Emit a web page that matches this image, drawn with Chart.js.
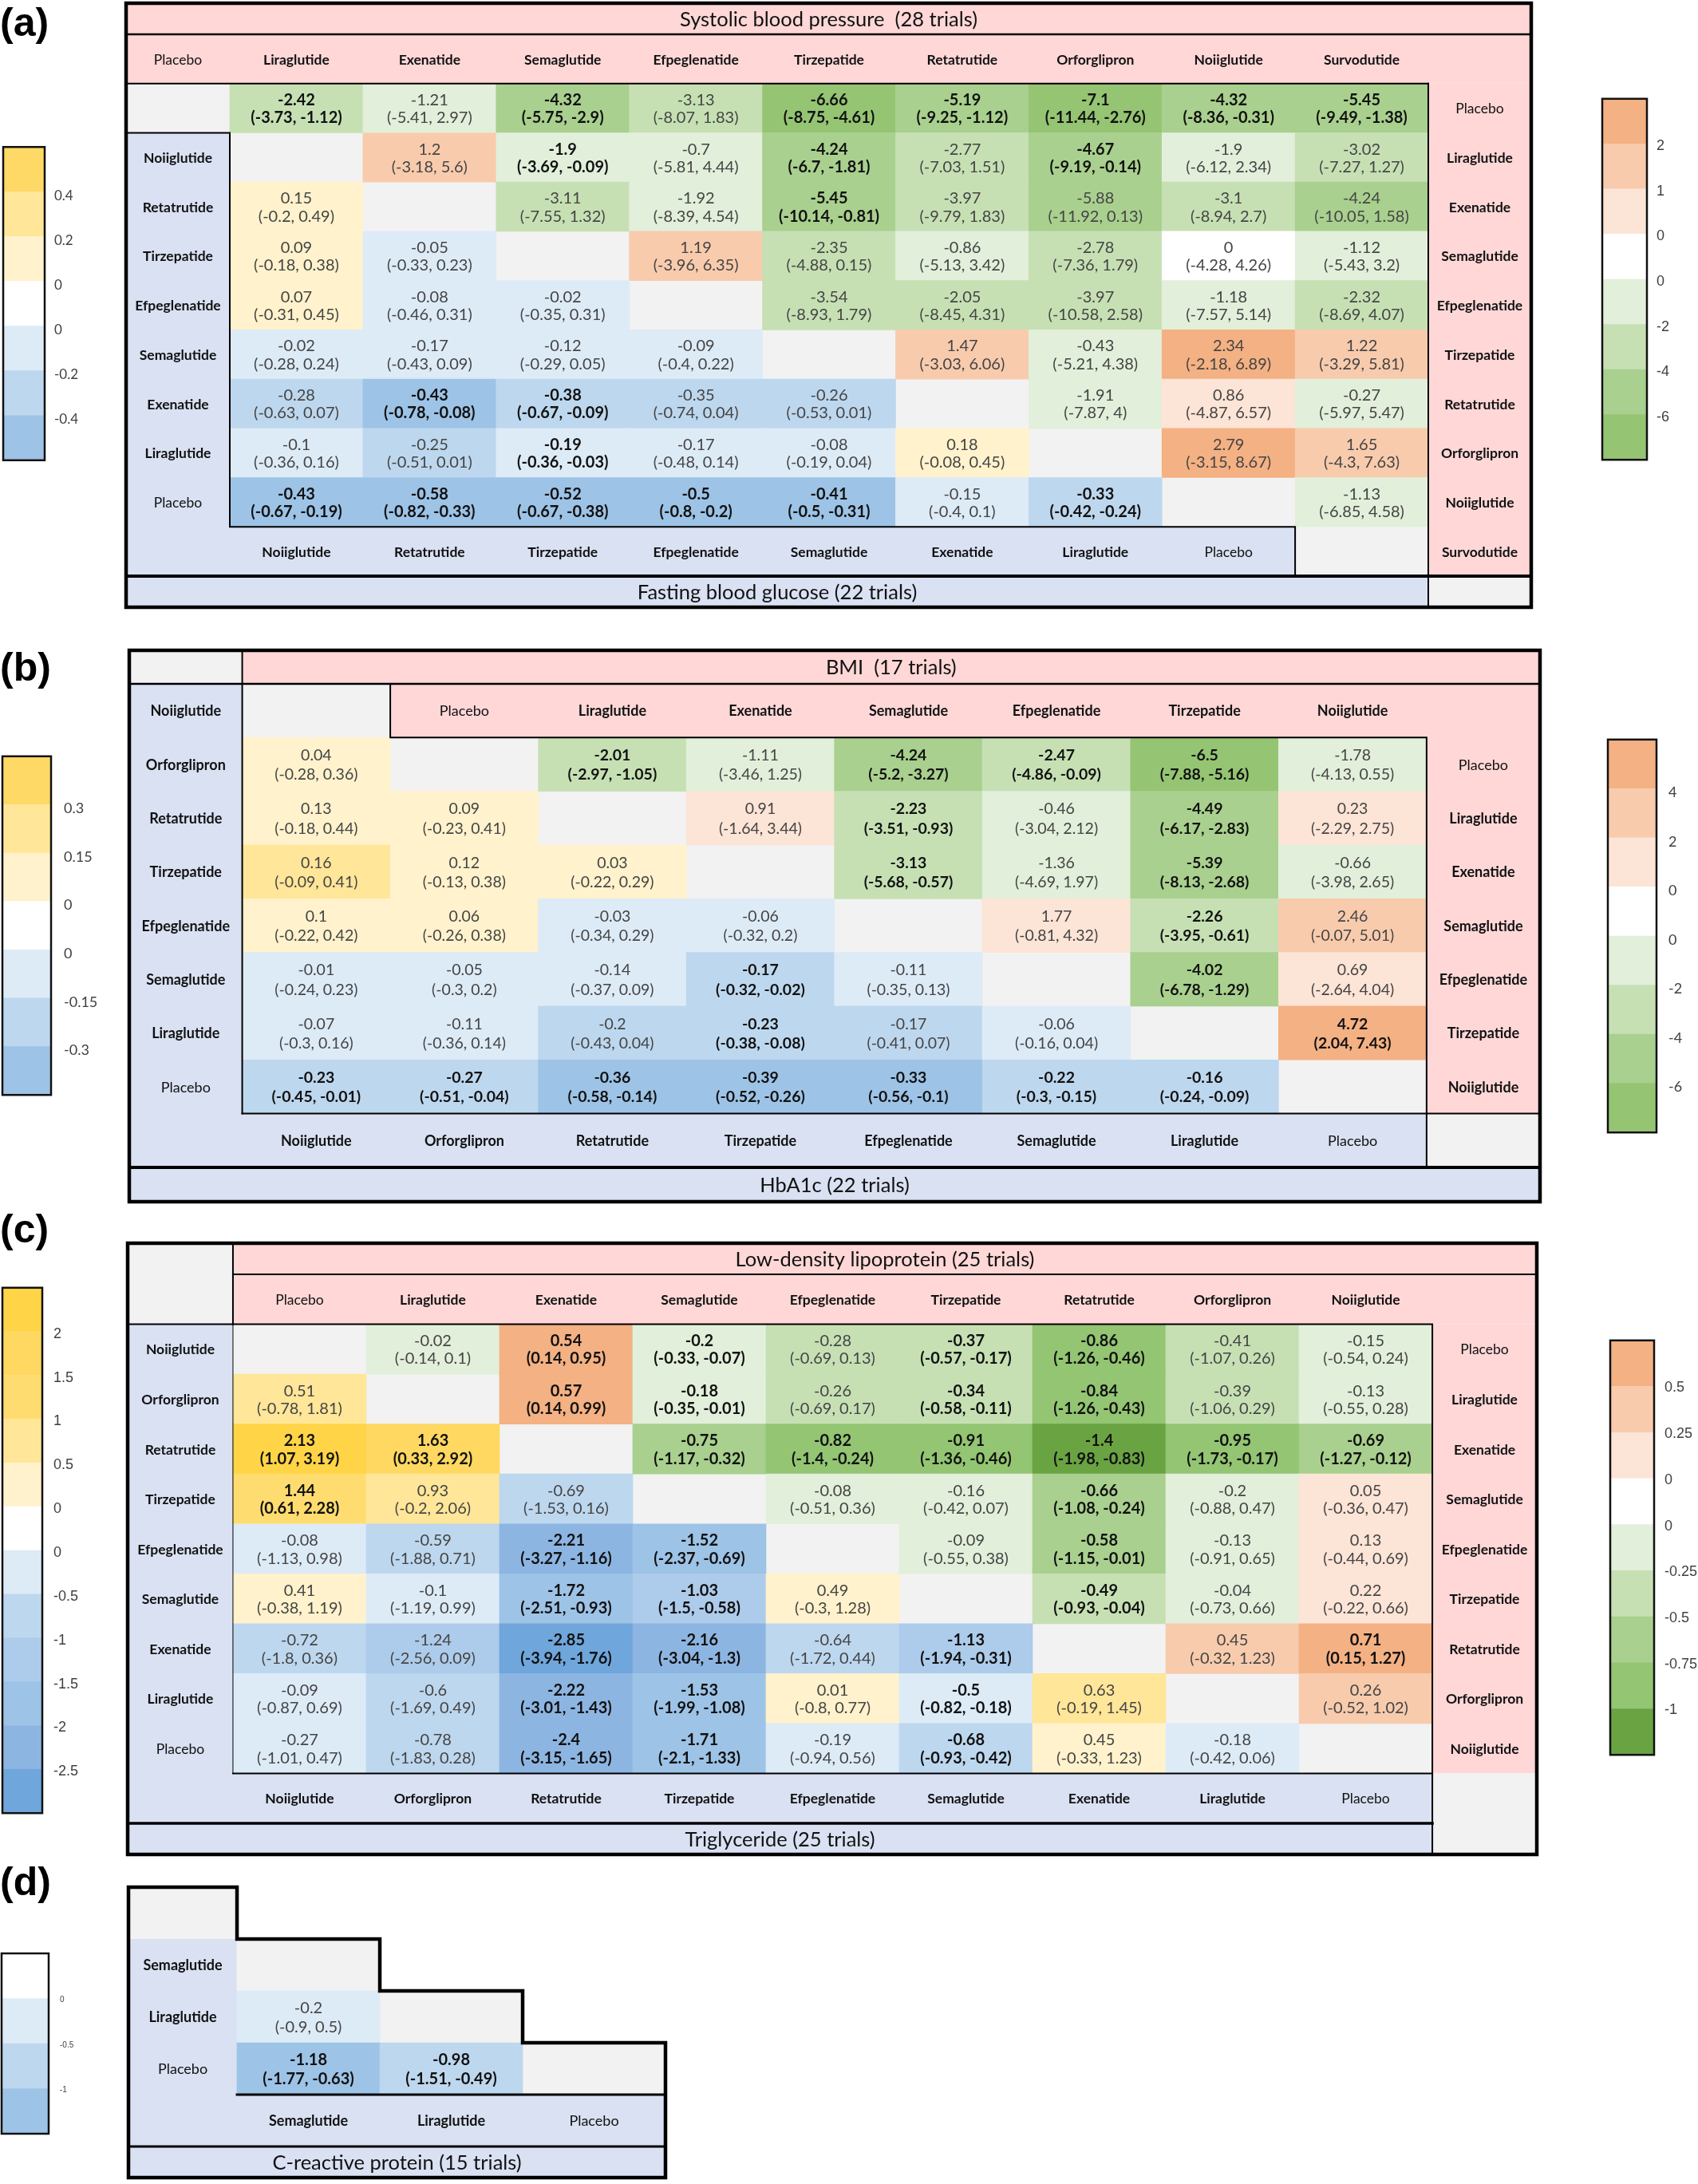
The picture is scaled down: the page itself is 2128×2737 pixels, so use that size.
<!DOCTYPE html>
<html>
<head>
<meta charset="utf-8">
<script src="https://cdn.jsdelivr.net/npm/chart.js@4.4.1/dist/chart.umd.min.js"></script>
<style>
  html, body { margin: 0; padding: 0; background: #fff; }
  body { width: 2128px; height: 2737px; position: relative; overflow: hidden; }
  canvas { position: absolute; }
  .tag { position: absolute; left: 0; font: bold 50px "Liberation Sans", Arial, sans-serif; line-height: 50px; color: #000; }
</style>
</head>
<body>
<div class="tag" style="top:3px">(a)</div>
<div class="tag" style="top:811px">(b)</div>
<div class="tag" style="top:1515px">(c)</div>
<div class="tag" style="top:2333px">(d)</div>

<canvas id="legA1"></canvas><canvas id="tabA"></canvas><canvas id="legA2"></canvas>
<canvas id="legB1"></canvas><canvas id="tabB"></canvas><canvas id="legB2"></canvas>
<canvas id="legC1"></canvas><canvas id="tabC"></canvas><canvas id="legC2"></canvas>
<canvas id="legD"></canvas><canvas id="tabD"></canvas>

<script>
// ---------- (a) systolic blood pressure, upper triangle ----------
// row i: sbpNames[i] compared with sbpNames[i+1..]
const sbpNames = ['Placebo', 'Liraglutide', 'Exenatide', 'Semaglutide', 'Efpeglenatide',
  'Tirzepatide', 'Retatrutide', 'Orforglipron', 'Noiiglutide', 'Survodutide'];
const sbpEst = [
  [-2.42, -1.21, -4.32, -3.13, -6.66, -5.19, -7.1, -4.32, -5.45],
  [1.2, -1.9, -0.7, -4.24, -2.77, -4.67, -1.9, -3.02],
  [-3.11, -1.92, -5.45, -3.97, -5.88, -3.1, -4.24],
  [1.19, -2.35, -0.86, -2.78, 0, -1.12],
  [-3.54, -2.05, -3.97, -1.18, -2.32],
  [1.47, -0.43, 2.34, 1.22],
  [-1.91, 0.86, -0.27],
  [2.79, 1.65],
  [-1.13],
];
const sbpLow = [
  [-3.73, -5.41, -5.75, -8.07, -8.75, -9.25, -11.44, -8.36, -9.49],
  [-3.18, -3.69, -5.81, -6.7, -7.03, -9.19, -6.12, -7.27],
  [-7.55, -8.39, -10.14, -9.79, -11.92, -8.94, -10.05],
  [-3.96, -4.88, -5.13, -7.36, -4.28, -5.43],
  [-8.93, -8.45, -10.58, -7.57, -8.69],
  [-3.03, -5.21, -2.18, -3.29],
  [-7.87, -4.87, -5.97],
  [-3.15, -4.3],
  [-6.85],
];
const sbpHigh = [
  [-1.12, 2.97, -2.9, 1.83, -4.61, -1.12, -2.76, -0.31, -1.38],
  [5.6, -0.09, 4.44, -1.81, 1.51, -0.14, 2.34, 1.27],
  [1.32, 4.54, -0.81, 1.83, 0.13, 2.7, 1.58],
  [6.35, 0.15, 3.42, 1.79, 4.26, 3.2],
  [1.79, 4.31, 2.58, 5.14, 4.07],
  [6.06, 4.38, 6.89, 5.81],
  [4, 6.57, 5.47],
  [8.67, 7.63],
  [4.58],
];

// ---------- (a) fasting blood glucose, lower triangle ----------
// row i: fbgNames[i] compared with fbgNames[0..i-1]
const fbgNames = ['Noiiglutide', 'Retatrutide', 'Tirzepatide', 'Efpeglenatide', 'Semaglutide',
  'Exenatide', 'Liraglutide', 'Placebo'];
const fbgEst = [
  [], [0.15], [0.09, -0.05], [0.07, -0.08, -0.02], [-0.02, -0.17, -0.12, -0.09],
  [-0.28, -0.43, -0.38, -0.35, -0.26],
  [-0.1, -0.25, -0.19, -0.17, -0.08, 0.18],
  [-0.43, -0.58, -0.52, -0.5, -0.41, -0.15, -0.33],
];
const fbgLow = [
  [], [-0.2], [-0.18, -0.33], [-0.31, -0.46, -0.35], [-0.28, -0.43, -0.29, -0.4],
  [-0.63, -0.78, -0.67, -0.74, -0.53],
  [-0.36, -0.51, -0.36, -0.48, -0.19, -0.08],
  [-0.67, -0.82, -0.67, -0.8, -0.5, -0.4, -0.42],
];
const fbgHigh = [
  [], [0.49], [0.38, 0.23], [0.45, 0.31, 0.31], [0.24, 0.09, 0.05, 0.22],
  [0.07, -0.08, -0.09, 0.04, 0.01],
  [0.16, 0.01, -0.03, 0.14, 0.04, 0.45],
  [-0.19, -0.33, -0.38, -0.2, -0.31, 0.1, -0.24],
];

// ---------- (b) BMI, upper triangle ----------
const bmiNames = ['Placebo', 'Liraglutide', 'Exenatide', 'Semaglutide', 'Efpeglenatide', 'Tirzepatide', 'Noiiglutide'];
const bmiEst = [
  [-2.01, -1.11, -4.24, -2.47, -6.5, -1.78],
  [0.91, -2.23, -0.46, -4.49, 0.23],
  [-3.13, -1.36, -5.39, -0.66],
  [1.77, -2.26, 2.46],
  [-4.02, 0.69],
  [4.72],
];
const bmiLow = [
  [-2.97, -3.46, -5.2, -4.86, -7.88, -4.13],
  [-1.64, -3.51, -3.04, -6.17, -2.29],
  [-5.68, -4.69, -8.13, -3.98],
  [-0.81, -3.95, -0.07],
  [-6.78, -2.64],
  [2.04],
];
const bmiHigh = [
  [-1.05, 1.25, -3.27, -0.09, -5.16, 0.55],
  [3.44, -0.93, 2.12, -2.83, 2.75],
  [-0.57, 1.97, -2.68, 2.65],
  [4.32, -0.61, 5.01],
  [-1.29, 4.04],
  [7.43],
];

// ---------- (b) HbA1c, lower triangle ----------
const hba1cNames = ['Noiiglutide', 'Orforglipron', 'Retatrutide', 'Tirzepatide', 'Efpeglenatide',
  'Semaglutide', 'Liraglutide', 'Placebo'];
const hba1cEst = [
  [], [0.04], [0.13, 0.09], [0.16, 0.12, 0.03], [0.1, 0.06, -0.03, -0.06],
  [-0.01, -0.05, -0.14, -0.17, -0.11],
  [-0.07, -0.11, -0.2, -0.23, -0.17, -0.06],
  [-0.23, -0.27, -0.36, -0.39, -0.33, -0.22, -0.16],
];
const hba1cLow = [
  [], [-0.28], [-0.18, -0.23], [-0.09, -0.13, -0.22], [-0.22, -0.26, -0.34, -0.32],
  [-0.24, -0.3, -0.37, -0.32, -0.35],
  [-0.3, -0.36, -0.43, -0.38, -0.41, -0.16],
  [-0.45, -0.51, -0.58, -0.52, -0.56, -0.3, -0.24],
];
const hba1cHigh = [
  [], [0.36], [0.44, 0.41], [0.41, 0.38, 0.29], [0.42, 0.38, 0.29, 0.2],
  [0.23, 0.2, 0.09, -0.02, 0.13],
  [0.16, 0.14, 0.04, -0.08, 0.07, 0.04],
  [-0.01, -0.04, -0.14, -0.26, -0.1, -0.15, -0.09],
];

// ---------- (c) LDL, upper triangle ----------
const ldlNames = ['Placebo', 'Liraglutide', 'Exenatide', 'Semaglutide', 'Efpeglenatide',
  'Tirzepatide', 'Retatrutide', 'Orforglipron', 'Noiiglutide'];
const ldlEst = [
  [-0.02, 0.54, -0.2, -0.28, -0.37, -0.86, -0.41, -0.15],
  [0.57, -0.18, -0.26, -0.34, -0.84, -0.39, -0.13],
  [-0.75, -0.82, -0.91, -1.4, -0.95, -0.69],
  [-0.08, -0.16, -0.66, -0.2, 0.05],
  [-0.09, -0.58, -0.13, 0.13],
  [-0.49, -0.04, 0.22],
  [0.45, 0.71],
  [0.26],
];
const ldlLow = [
  [-0.14, 0.14, -0.33, -0.69, -0.57, -1.26, -1.07, -0.54],
  [0.14, -0.35, -0.69, -0.58, -1.26, -1.06, -0.55],
  [-1.17, -1.4, -1.36, -1.98, -1.73, -1.27],
  [-0.51, -0.42, -1.08, -0.88, -0.36],
  [-0.55, -1.15, -0.91, -0.44],
  [-0.93, -0.73, -0.22],
  [-0.32, 0.15],
  [-0.52],
];
const ldlHigh = [
  [0.1, 0.95, -0.07, 0.13, -0.17, -0.46, 0.26, 0.24],
  [0.99, -0.01, 0.17, -0.11, -0.43, 0.29, 0.28],
  [-0.32, -0.24, -0.46, -0.83, -0.17, -0.12],
  [0.36, 0.07, -0.24, 0.47, 0.47],
  [0.38, -0.01, 0.65, 0.69],
  [-0.04, 0.66, 0.66],
  [1.23, 1.27],
  [1.02],
];

// ---------- (c) triglyceride, lower triangle ----------
const tgNames = ['Noiiglutide', 'Orforglipron', 'Retatrutide', 'Tirzepatide', 'Efpeglenatide',
  'Semaglutide', 'Exenatide', 'Liraglutide', 'Placebo'];
const tgEst = [
  [], [0.51], [2.13, 1.63], [1.44, 0.93, -0.69], [-0.08, -0.59, -2.21, -1.52],
  [0.41, -0.1, -1.72, -1.03, 0.49],
  [-0.72, -1.24, -2.85, -2.16, -0.64, -1.13],
  [-0.09, -0.6, -2.22, -1.53, 0.01, -0.5, 0.63],
  [-0.27, -0.78, -2.4, -1.71, -0.19, -0.68, 0.45, -0.18],
];
const tgLow = [
  [], [-0.78], [1.07, 0.33], [0.61, -0.2, -1.53], [-1.13, -1.88, -3.27, -2.37],
  [-0.38, -1.19, -2.51, -1.5, -0.3],
  [-1.8, -2.56, -3.94, -3.04, -1.72, -1.94],
  [-0.87, -1.69, -3.01, -1.99, -0.8, -0.82, -0.19],
  [-1.01, -1.83, -3.15, -2.1, -0.94, -0.93, -0.33, -0.42],
];
const tgHigh = [
  [], [1.81], [3.19, 2.92], [2.28, 2.06, 0.16], [0.98, 0.71, -1.16, -0.69],
  [1.19, 0.99, -0.93, -0.58, 1.28],
  [0.36, 0.09, -1.76, -1.3, 0.44, -0.31],
  [0.69, 0.49, -1.43, -1.08, 0.77, -0.18, 1.45],
  [0.47, 0.28, -1.65, -1.33, 0.56, -0.42, 1.23, 0.06],
];

// ---------- (d) C-reactive protein, lower triangle ----------
const crpNames = ['Semaglutide', 'Liraglutide', 'Placebo'];
const crpEst  = [[], [-0.2], [-1.18, -0.98]];
const crpLow  = [[], [-0.9], [-1.77, -1.51]];
const crpHigh = [[], [0.5], [-0.63, -0.49]];

// legend tick values (colour class limits)
const sbpPosBreaks = [1, 2],          sbpNegBreaks = [-2, -4, -6];
const fbgPosBreaks = [0.2, 0.4],      fbgNegBreaks = [-0.2, -0.4];
const bmiPosBreaks = [2, 4],          bmiNegBreaks = [-2, -4, -6];
const hba1cPosBreaks = [0.15, 0.3],   hba1cNegBreaks = [-0.15, -0.3];
const ldlPosBreaks = [0.25, 0.5],     ldlNegBreaks = [-0.25, -0.5, -0.75, -1];
const tgPosBreaks = [0.5, 1, 1.5, 2], tgNegBreaks = [-0.5, -1, -1.5, -2, -2.5];
const crpPosBreaks = [],              crpNegBreaks = [-0.5, -1];

// ---------- styles ----------
const FONT = 'Lato, "Liberation Sans", sans-serif';
const PINK = '#FFD7D7', LAV = '#D9E1F2', GRAY = '#F2F2F2';
const ORANGE = ['#FCE4D6', '#F8CBAD', '#F4B183'];
const GREEN4 = ['#E2EFDA', '#C6E0B4', '#A9D08E', '#95C473'];
const GREEN5 = ['#E2EFDA', '#C6E0B4', '#A9D08E', '#93C572', '#6AA342'];
const YELLOW3 = ['#FFF2CC', '#FFE699', '#FFD966'];
const YELLOW5 = ['#FFF2CC', '#FFE699', '#FFDC6F', '#FFD862', '#FFD447'];
const BLUE3 = ['#DDEBF7', '#BDD7EE', '#9DC3E6'];
const BLUE6 = ['#DDEBF7', '#BDD7EE', '#ADCBEA', '#9DC3E6', '#8DB5E2', '#6FA6DC'];

const palSbp   = { pos: ORANGE, posBreaks: sbpPosBreaks, neg: GREEN4, negBreaks: sbpNegBreaks };
const palFbg   = { pos: YELLOW3, posBreaks: fbgPosBreaks, neg: BLUE3, negBreaks: fbgNegBreaks };
const palBmi   = { pos: ORANGE, posBreaks: bmiPosBreaks, neg: GREEN4, negBreaks: bmiNegBreaks };
const palHba1c = { pos: YELLOW3, posBreaks: hba1cPosBreaks, neg: BLUE3, negBreaks: hba1cNegBreaks };
const palLdl   = { pos: ORANGE, posBreaks: ldlPosBreaks, neg: GREEN5, negBreaks: ldlNegBreaks };
const palTg    = { pos: YELLOW5, posBreaks: tgPosBreaks, neg: BLUE6, negBreaks: tgNegBreaks };
const palCrp   = { pos: [], posBreaks: crpPosBreaks, neg: BLUE3, negBreaks: crpNegBreaks };

function colorFor(v, pal) {
  if (v > 0) return pal.pos[pal.posBreaks.filter(b => v > b).length];
  if (v < 0) return pal.neg[pal.negBreaks.filter(b => v < b).length];
  return '#FFFFFF';
}

// ---------- spec helpers (grid units: 1 column x 1 row per cell) ----------
function newSpec(valueSize, labelSize) {
  return { cells: [], diag: [], bands: [], texts: [], lines: [], valueSize, labelSize };
}
const TITLE_SIZE = 25.5;
const band = (s, x0, x1, y0, y1, color) => s.bands.push({ x0, x1, y0, y1, color });
const line = (s, pts, w, closed) => s.lines.push({ pts, w, closed });
function label(s, text, span, y0, y1) {
  s.texts.push({ text, x0: span[0], x1: span[1], y0, y1, size: s.labelSize, weight: text === 'Placebo' ? 'normal' : 'bold' });
}
function title(s, text, span, y0, y1) {
  s.texts.push({ text, x0: span[0], x1: span[1], y0, y1, size: TITLE_SIZE, weight: 'normal' });
}
function cell(span, row, v, lo, hi, pal) {
  return { x0: span[0], x1: span[1], row, color: colorFor(v, pal),
    est: String(v), ci: '(' + lo + ', ' + hi + ')', bold: lo > 0 || hi < 0 };
}
function addUpper(s, est, lo, hi, pal, rowOf, colOf) {
  est.forEach((r, i) => r.forEach((v, k) => s.cells.push(cell(colOf(i + 1 + k), rowOf(i), v, lo[i][k], hi[i][k], pal))));
}
function addLower(s, est, lo, hi, pal, rowOf, colOf) {
  est.forEach((r, i) => r.forEach((v, j) => s.cells.push(cell(colOf(j), rowOf(i), v, lo[i][j], hi[i][j], pal))));
}
const rect = (x0, x1, y0, y1) => [[x0, y0], [x1, y0], [x1, y1], [x0, y1]];

// ---------- panel geometry (pixels per unit and extents in units) ----------
const geoA = { id: 'tabA', left: 158, top: 4, colW: 166.9, rowH: 61.7, xMin: -0.779, xMax: 9.773, yMin: -1.632, yMax: 10.632 };
const geoB = { id: 'tabB', left: 161.5, top: 815, colW: 185.5, rowH: 67.3, xMin: -0.763, xMax: 8.766, yMin: -0.624, yMax: 9.64 };
const geoC = { id: 'tabC', left: 160, top: 1558, colW: 167, rowH: 62.5, xMin: -0.79, xMax: 9.784, yMin: -1.624, yMax: 10.624 };
const geoD = { id: 'tabD', left: 161, top: 2365, colW: 179, rowH: 65, xMin: -0.76, xMax: 3, yMin: -1, yMax: 4.6 };

function specA() {
  const g = geoA, L = g.xMin, R = g.xMax, s = newSpec(20, 17.5);
  const upCol = j => j === 0 ? [L, 0] : [j - 1, j];
  const loCol = j => [j, j + 1];
  band(s, L, R, g.yMin, 0, PINK);
  band(s, 9, R, 0, 10, PINK);
  band(s, L, 0, 1, 10, LAV);
  band(s, L, 8, 9, 10, LAV);
  band(s, L, 9, 10, g.yMax, LAV);
  band(s, 9, R, 10, g.yMax, GRAY);
  sbpNames.forEach((n, i) => {
    s.diag.push({ span: upCol(i), row: i });
    label(s, n, upCol(i), -1, 0);
    label(s, n, [9, R], i, i + 1);
  });
  fbgNames.forEach((n, i) => {
    label(s, n, [L, 0], i + 1, i + 2);
    label(s, n, loCol(i), 9, 10);
  });
  addUpper(s, sbpEst, sbpLow, sbpHigh, palSbp, i => i, upCol);
  addLower(s, fbgEst, fbgLow, fbgHigh, palFbg, i => i + 1, loCol);
  title(s, 'Systolic blood pressure  (28 trials)', [L, R], g.yMin, -1);
  title(s, 'Fasting blood glucose (22 trials)', [L, 9], 10, g.yMax);
  line(s, [[L, -1], [R, -1]], 2.5);
  line(s, [[L, 0], [9, 0]], 2);
  line(s, [[9, 0], [9, g.yMax]], 2);
  line(s, [[L, 1], [0, 1], [0, 9], [8, 9], [8, 10]], 2);
  line(s, [[L, 10], [R, 10]], 4);
  line(s, rect(L, R, g.yMin, g.yMax), 4.5, true);
  return s;
}

function specB() {
  const g = geoB, L = g.xMin, R = g.xMax, s = newSpec(19.5, 18);
  const upCol = j => [j + 1, j + 2];
  const loCol = j => [j, j + 1];
  band(s, L, 0, g.yMin, 0, GRAY);
  band(s, 0, R, g.yMin, 0, PINK);
  band(s, 1, R, 0, 1, PINK);
  band(s, 8, R, 0, 8, PINK);
  band(s, L, 0, 0, 9, LAV);
  band(s, L, 8, 8, 9, LAV);
  band(s, 8, R, 8, 9, GRAY);
  band(s, L, R, 9, g.yMax, LAV);
  hba1cNames.forEach((n, i) => {
    s.diag.push({ span: loCol(i), row: i });
    label(s, n, [L, 0], i, i + 1);
    label(s, n, loCol(i), 8, 9);
  });
  bmiNames.forEach((n, i) => {
    label(s, n, upCol(i), 0, 1);
    label(s, n, [8, R], i + 1, i + 2);
  });
  addUpper(s, bmiEst, bmiLow, bmiHigh, palBmi, i => i + 1, upCol);
  addLower(s, hba1cEst, hba1cLow, hba1cHigh, palHba1c, i => i, loCol);
  title(s, 'BMI  (17 trials)', [0, R], g.yMin, 0);
  title(s, 'HbA1c (22 trials)', [L, R], 9, g.yMax);
  line(s, [[L, 0], [R, 0]], 2.5);
  line(s, [[0, g.yMin], [0, 8]], 2);
  line(s, [[1, 0], [1, 1], [8, 1], [8, 9]], 2);
  line(s, [[0, 8], [R, 8]], 2);
  line(s, [[L, 9], [R, 9]], 4);
  line(s, rect(L, R, g.yMin, g.yMax), 4.5, true);
  return s;
}

function specC() {
  const g = geoC, L = g.xMin, R = g.xMax, s = newSpec(20, 17.5);
  const col = j => [j, j + 1];
  band(s, L, 0, g.yMin, 0, GRAY);
  band(s, 0, R, g.yMin, 0, PINK);
  band(s, 9, R, 0, 9, PINK);
  band(s, 9, R, 9, g.yMax, GRAY);
  band(s, L, 0, 0, 10, LAV);
  band(s, L, 9, 9, g.yMax, LAV);
  tgNames.forEach((n, i) => {
    s.diag.push({ span: col(i), row: i });
    label(s, n, [L, 0], i, i + 1);
    label(s, n, col(i), 9, 10);
  });
  ldlNames.forEach((n, i) => {
    label(s, n, col(i), -1, 0);
    label(s, n, [9, R], i, i + 1);
  });
  addUpper(s, ldlEst, ldlLow, ldlHigh, palLdl, i => i, col);
  addLower(s, tgEst, tgLow, tgHigh, palTg, i => i, col);
  title(s, 'Low-density lipoprotein (25 trials)', [0, R], g.yMin, -1);
  title(s, 'Triglyceride (25 trials)', [L, 9], 10, g.yMax);
  line(s, [[0, g.yMin], [0, 0]], 2);
  line(s, [[0, 0], [0, 9]], 1);
  line(s, [[0, -1], [R, -1]], 2);
  line(s, [[L, 0], [9, 0], [9, g.yMax]], 2);
  line(s, [[0, 9], [9, 9]], 2);
  line(s, [[L, 10], [9, 10]], 3.5);
  line(s, rect(L, R, g.yMin, g.yMax), 4.5, true);
  return s;
}

function specD() {
  const g = geoD, L = g.xMin, s = newSpec(20, 18);
  const col = j => [j, j + 1];
  band(s, L, 0, -1, 0, GRAY);
  band(s, L, 0, 0, 4, LAV);
  band(s, L, 3, 3, g.yMax, LAV);
  crpNames.forEach((n, i) => {
    s.diag.push({ span: col(i), row: i });
    label(s, n, [L, 0], i, i + 1);
    label(s, n, col(i), 3, 4);
  });
  addLower(s, crpEst, crpLow, crpHigh, palCrp, i => i, col);
  title(s, 'C-reactive protein (15 trials)', [L, 3], 4, g.yMax);
  line(s, [[0, 3], [3, 3]], 3);
  line(s, [[L, 4], [3, 4]], 3);
  line(s, [[L, g.yMax], [L, -1], [0, -1], [0, 0], [1, 0], [1, 1], [2, 1], [2, 2], [3, 2], [3, g.yMax]], 4.5, true);
  return s;
}

// ---------- drawing ----------
function tablePlugin(spec) {
  const box = (chart, x0, x1, y0, y1) => {
    const { x, y } = chart.scales;
    const l = x.getPixelForValue(x0), r = x.getPixelForValue(x1);
    const t = y.getPixelForValue(y0), b = y.getPixelForValue(y1);
    return { l, r, t, b, cx: (l + r) / 2, cy: (t + b) / 2, h: b - t };
  };
  return {
    id: 'leagueTable',
    beforeDatasetsDraw(chart) {
      const ctx = chart.ctx;
      ctx.save();
      spec.bands.forEach(bd => {
        const r = box(chart, bd.x0, bd.x1, bd.y0, bd.y1);
        ctx.fillStyle = bd.color;
        ctx.fillRect(r.l, r.t, r.r - r.l, r.b - r.t);
      });
      ctx.restore();
    },
    afterDatasetsDraw(chart) {
      const ctx = chart.ctx;
      const { x, y } = chart.scales;
      ctx.save();
      ctx.textAlign = 'center';
      ctx.textBaseline = 'middle';
      spec.cells.forEach(c => {
        const r = box(chart, c.x0, c.x1, c.row, c.row + 1);
        ctx.fillStyle = c.bold ? '#111' : '#444';
        ctx.font = (c.bold ? 'bold ' : '') + spec.valueSize + 'px ' + FONT;
        ctx.fillText(c.est, r.cx, r.cy - 0.165 * r.h);
        ctx.fillText(c.ci, r.cx, r.cy + 0.195 * r.h);
      });
      spec.texts.forEach(t => {
        const r = box(chart, t.x0, t.x1, t.y0, t.y1);
        ctx.fillStyle = '#111';
        ctx.font = t.weight + ' ' + t.size + 'px ' + FONT;
        ctx.fillText(t.text, r.cx, r.cy + 1);
      });
      ctx.strokeStyle = '#000';
      ctx.lineJoin = 'miter';
      ctx.lineCap = 'square';
      spec.lines.forEach(ln => {
        ctx.lineWidth = ln.w;
        ctx.beginPath();
        ln.pts.forEach(([px, py], k) => {
          const X = x.getPixelForValue(px), Y = y.getPixelForValue(py);
          if (k) ctx.lineTo(X, Y); else ctx.moveTo(X, Y);
        });
        if (ln.closed) ctx.closePath();
        ctx.stroke();
      });
      ctx.restore();
    },
  };
}

function buildTable(geo, spec) {
  const pad = 8;
  const canvas = document.getElementById(geo.id);
  const w = Math.round((geo.xMax - geo.xMin) * geo.colW + 2 * pad);
  const h = Math.round((geo.yMax - geo.yMin) * geo.rowH + 2 * pad);
  canvas.width = w;
  canvas.height = h;
  canvas.style.left = (geo.left - pad) + 'px';
  canvas.style.top = (geo.top - pad) + 'px';
  const xPad = pad / geo.colW, yPad = pad / geo.rowH;
  const yLo = geo.yMin - yPad, yHi = geo.yMax + yPad;
  const toBar = c => ({ x: [c.x0, c.x1], y: c.row + 0.5 });

  new Chart(canvas, {
    type: 'bar',
    data: {
      datasets: [
        {
          label: 'comparison',
          data: spec.cells.map(toBar),
          backgroundColor: spec.cells.map(c => c.color),
        },
        {
          label: 'same treatment',
          data: spec.diag.map(d => ({ x: d.span, y: d.row + 0.5 })),
          backgroundColor: GRAY,
        },
      ],
    },
    options: {
      indexAxis: 'y',
      responsive: false,
      animation: false,
      events: [],
      layout: { padding: 0 },
      datasets: { bar: { grouped: false, barPercentage: 1, categoryPercentage: 1, borderWidth: 0 } },
      plugins: { legend: { display: false }, tooltip: { enabled: false } },
      scales: {
        x: { type: 'linear', display: false, min: geo.xMin - xPad, max: geo.xMax + xPad },
        y: {
          type: 'linear', display: false, reverse: true, offset: false, min: yLo, max: yHi,
          afterBuildTicks: s => {
            const t = [];
            for (let v = Math.ceil(yLo); v <= Math.floor(yHi); v++) t.push({ value: v });
            s.ticks = t;
          },
        },
      },
    },
    plugins: [tablePlugin(spec)],
  });
}

const frame = {
  id: 'frame',
  afterDatasetsDraw(chart) {
    const { ctx, chartArea: a } = chart;
    ctx.save();
    ctx.lineWidth = 2.5;
    ctx.strokeStyle = '#111';
    ctx.strokeRect(a.left, a.top, a.right - a.left, a.bottom - a.top);
    ctx.restore();
  },
};

function buildLegend(cfg) {
  const pal = cfg.pal;
  const segs = [...pal.pos].reverse().concat(['#FFFFFF'], pal.neg);       // top to bottom
  const tickText = [...pal.posBreaks].reverse()
    .concat(pal.pos.length ? [0, 0] : [0], pal.negBreaks).map(String);   // boundaries, top to bottom
  const n = segs.length;
  const padT = 3, labelW = 64;
  const canvas = document.getElementById(cfg.id);
  canvas.width = cfg.w + padT + labelW;
  canvas.height = cfg.h + 2 * padT;
  canvas.style.left = (cfg.left - padT) + 'px';
  canvas.style.top = (cfg.top - padT) + 'px';

  new Chart(canvas, {
    type: 'bar',
    data: {
      labels: [''],
      datasets: segs.slice().reverse().map(c => ({ data: [1], backgroundColor: c, borderWidth: 0 })),
    },
    options: {
      responsive: false,
      animation: false,
      events: [],
      layout: { padding: { left: padT, top: padT, bottom: padT, right: 0 } },
      plugins: { legend: { display: false }, tooltip: { enabled: false } },
      datasets: { bar: { barPercentage: 1, categoryPercentage: 1 } },
      scales: {
        x: { stacked: true, display: false },
        y: {
          stacked: true, position: 'right', min: 0, max: n,
          grid: { display: false, drawTicks: false },
          border: { display: false },
          afterBuildTicks: s => { s.ticks = Array.from({ length: n + 1 }, (_, i) => ({ value: i })); },
          afterFit: s => { s.width = labelW; },
          ticks: {
            autoSkip: false,
            padding: cfg.gap,
            labelOffset: cfg.offset,
            color: '#404040',
            font: { family: cfg.font, size: cfg.size },
            callback: v => (v > 0 && v < n) ? tickText[n - v - 1] : null,
          },
        },
      },
    },
    plugins: [frame],
  });
}

buildTable(geoA, specA());
buildTable(geoB, specB());
buildTable(geoC, specC());
buildTable(geoD, specD());

const SANS = '"Liberation Sans", Arial, sans-serif';
buildLegend({ id: 'legA1', left: 4,    top: 165,  w: 52, h: 431, pal: palFbg,   gap: 12, offset: 5, size: 17, font: FONT });
buildLegend({ id: 'legA2', left: 2008, top: 104,  w: 56, h: 492, pal: palSbp,   gap: 12, offset: 3, size: 18, font: SANS });
buildLegend({ id: 'legB1', left: 3,    top: 924,  w: 61, h: 472, pal: palHba1c, gap: 16, offset: 5, size: 18, font: FONT });
buildLegend({ id: 'legB2', left: 2015, top: 904,  w: 61, h: 538, pal: palBmi,   gap: 15, offset: 5, size: 18, font: FONT });
buildLegend({ id: 'legC1', left: 3,    top: 1592, w: 50, h: 702, pal: palTg,    gap: 14, offset: 3, size: 18, font: SANS });
buildLegend({ id: 'legC2', left: 2018, top: 1659, w: 55, h: 561, pal: palLdl,   gap: 13, offset: 2, size: 18, font: SANS });
buildLegend({ id: 'legD',  left: 2,    top: 2431, w: 59, h: 260, pal: palCrp,   gap: 14, offset: 2, size: 10, font: SANS });
</script>
</body>
</html>
